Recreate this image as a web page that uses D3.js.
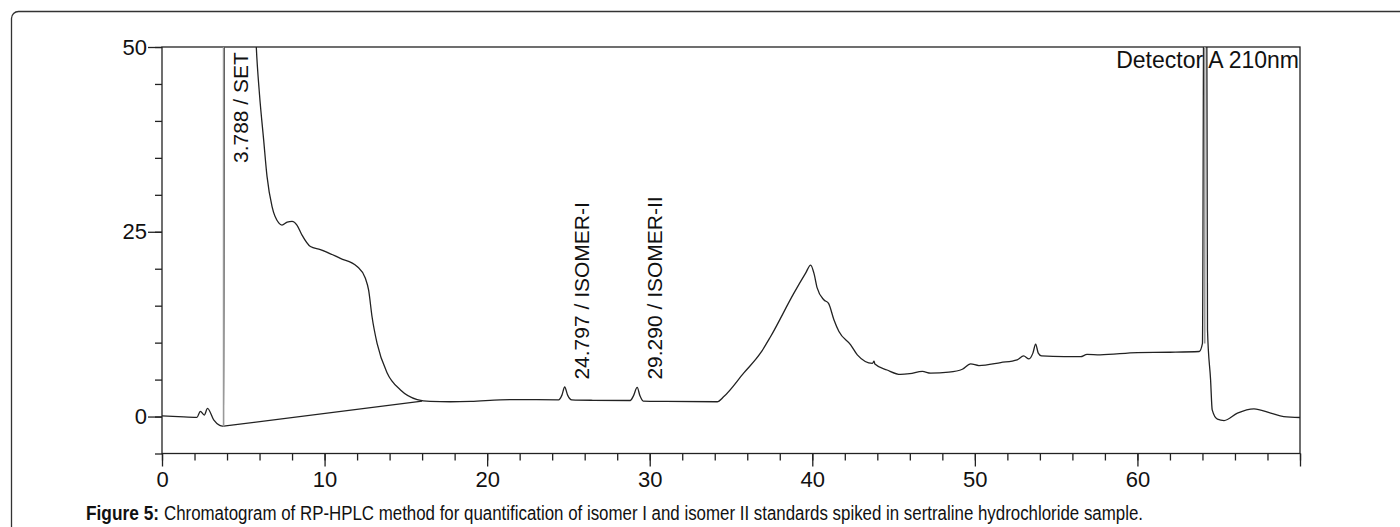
<!DOCTYPE html>
<html>
<head>
<meta charset="utf-8">
<script src="https://cdn.jsdelivr.net/npm/d3@7"></script>
<style>
  body { margin: 0; background: #fff; }
  svg { display: block; font-family: "Liberation Sans", Arial, sans-serif; }
</style>
</head>
<body>
<script>
// chromatogram trace: [time (min), signal (mV)]
var traceTime = [0, 1.0, 2.15, 2.36, 2.6, 2.8, 3.18, 3.55, 3.72, 3.79, 3.85, 5.5, 5.8, 6.0, 6.25, 6.46, 6.77, 7.18, 7.38, 7.7, 8.0, 8.3, 8.6, 9.13, 9.74, 10.97, 12.0, 12.51, 12.71, 12.92, 13.23, 13.85, 14.67, 15.7, 16.5, 17.74, 19.0, 20.8, 22.0, 24.4, 24.6, 24.77, 24.95, 25.2, 26.5, 28.8, 29.0, 29.23, 29.4, 29.6, 31.0, 34.15, 34.56, 35.79, 36.82, 37.43, 38.87, 39.59, 39.9, 40.1, 40.3, 40.71, 41.0, 41.33, 41.64, 42.36, 42.77, 43.7, 43.8, 43.85, 44.6, 45.43, 46.0, 46.77, 47.28, 48.4, 49.23, 49.74, 50.25, 51.59, 52.6, 53.0, 53.33, 53.57, 53.74, 53.9, 54.1, 55.5, 56.5, 56.9, 57.7, 60.0, 62.0, 63.8, 64.0, 64.1, 64.25, 64.31, 64.5, 64.6, 64.92, 65.33, 66.15, 67.17, 68.2, 69.0, 70.0];
var traceSignal = [0.1, 0.0, -0.1, 0.7, 0.2, 1.1, -0.45, -1.2, -1.3, -1.3, 70, 70, 50, 43.5, 37.5, 32.5, 28.4, 26.2, 25.9, 26.3, 26.4, 25.9, 24.6, 23.0, 22.6, 21.4, 20.3, 18.7, 17.1, 13.5, 9.9, 5.9, 3.6, 2.3, 2.05, 2.0, 2.05, 2.25, 2.3, 2.26, 2.9, 4.0, 2.9, 2.26, 2.2, 2.17, 2.8, 3.95, 2.8, 2.1, 2.05, 2.0, 2.7, 5.9, 8.6, 10.8, 16.7, 19.4, 20.5, 19.4, 17.4, 15.8, 15.3, 13.1, 11.5, 9.7, 8.35, 7.2, 7.5, 7.1, 6.3, 5.7, 5.8, 6.1, 5.87, 6.0, 6.4, 7.13, 6.9, 7.3, 7.67, 8.2, 7.8, 8.58, 9.8, 8.58, 8.2, 8.1, 8.1, 8.4, 8.35, 8.66, 8.7, 8.8, 9.9, 70, 70, 11.7, 4.97, 0.9, -0.35, -0.54, 0.46, 1.04, 0.46, 0.0, -0.13];

// integration baseline under the solvent hump
var baseTime = [3.79, 16.0];
var baseSignal = [-1.3, 2.1];

// peak labels
var peakTimes = [3.788, 24.797, 29.290];
var peakNames = ["SET", "ISOMER-I", "ISOMER-II"];
var peakLabelStart = [34.3, 5.0, 5.0];   // signal level where the rotated label starts
var dropLines = [[3.788, -1.3], [64.14, 9.9]];

var xTicksMajor = [0, 10, 20, 30, 40, 50, 60];
var yTicksMajor = [0, 25, 50];

var svg = d3.select("body").append("svg").attr("width", 1400).attr("height", 527);

// figure border (rounded, runs off right and bottom)
svg.append("rect").attr("x", 11.5).attr("y", 11.5).attr("width", 1420).attr("height", 560)
  .attr("rx", 7).attr("fill", "none").attr("stroke", "#333").attr("stroke-width", 1.3);

var pLeft = 162, pRight = 1300, pTop = 47, pBottom = 453.5;
var x = d3.scaleLinear().domain([0, 70]).range([pLeft, pRight]);
var y = d3.scaleLinear().domain([-5, 50]).range([pBottom, pTop]);

svg.append("defs").append("clipPath").attr("id", "plotclip")
  .append("rect").attr("x", pLeft).attr("y", pTop).attr("width", pRight - pLeft).attr("height", pBottom - pTop);

// axes: minor ticks every 2 min / 5 mV, longer ticks on labelled values
var xAxisMinor = d3.axisBottom(x).tickValues(d3.range(0, 71, 2)).tickSize(7).tickFormat("");
var xAxisMajor = d3.axisBottom(x).tickValues(xTicksMajor.concat([70])).tickSize(13).tickPadding(5)
  .tickFormat(function(d) { return d == 70 ? "" : d; });
var yAxisMinor = d3.axisLeft(y).tickValues(d3.range(-5, 51, 5)).tickSize(7).tickFormat("");
var yAxisMajor = d3.axisLeft(y).tickValues(yTicksMajor).tickSize(14).tickPadding(1);

[xAxisMinor, xAxisMajor].forEach(function(ax) {
  svg.append("g").attr("class", "axis").attr("transform", "translate(0," + pBottom + ")").call(ax);
});
[yAxisMinor, yAxisMajor].forEach(function(ax) {
  svg.append("g").attr("class", "axis").attr("transform", "translate(" + pLeft + ",0)").call(ax);
});
svg.selectAll(".axis .domain").remove();
svg.selectAll(".axis line").attr("stroke", "#222").attr("stroke-width", 1.3);
svg.selectAll(".axis text").attr("font-size", "22px").attr("fill", "#111")
  .attr("font-family", "'Liberation Sans', Arial, sans-serif");

// frame
svg.append("rect").attr("x", pLeft).attr("y", pTop).attr("width", pRight - pLeft).attr("height", pBottom - pTop)
  .attr("fill", "none").attr("stroke", "#222").attr("stroke-width", 1.3);

var plot = svg.append("g").attr("clip-path", "url(#plotclip)");

var pts = traceTime.map(function(t, i) { return [t, traceSignal[i]]; });
var line = d3.line().x(function(d) { return x(d[0]); }).y(function(d) { return y(d[1]); })
  .curve(d3.curveMonotoneX);

plot.append("path").datum(pts).attr("d", line)
  .attr("fill", "none").attr("stroke", "#222").attr("stroke-width", 1.3);

plot.append("path").datum(baseTime.map(function(t, i) { return [t, baseSignal[i]]; }))
  .attr("d", d3.line().x(function(d) { return x(d[0]); }).y(function(d) { return y(d[1]); }))
  .attr("fill", "none").attr("stroke", "#222").attr("stroke-width", 1.3);

// grey drop lines
plot.selectAll(".drop").data(dropLines).enter().append("line")
  .attr("x1", function(d) { return x(d[0]); }).attr("x2", function(d) { return x(d[0]); })
  .attr("y1", pTop).attr("y2", function(d) { return y(d[1]); })
  .attr("stroke", "#999").attr("stroke-width", 1.6);

// rotated peak labels
svg.selectAll(".plabel").data(peakTimes).enter().append("text")
  .attr("transform", function(d, i) {
    return "translate(" + (x(d) + 24) + "," + y(peakLabelStart[i]) + ") rotate(-90)";
  })
  .attr("font-size", "21px").attr("fill", "#111")
  .text(function(d, i) { return d.toFixed(3) + " / " + peakNames[i]; });

svg.append("text").attr("x", pRight - 1).attr("y", 68).attr("text-anchor", "end")
  .attr("font-size", "23px").attr("fill", "#111").text("Detector A 210nm");

// caption
var capFont = "'Liberation Sans Narrow', 'Arial Narrow', 'Liberation Sans', Arial, sans-serif";
svg.append("text").attr("x", 86).attr("y", 520)
  .attr("font-family", capFont).attr("font-size", "20px").attr("font-weight", "bold").attr("fill", "#111")
  .attr("textLength", 73).attr("lengthAdjust", "spacingAndGlyphs")
  .text("Figure 5:");
svg.append("text").attr("x", 164).attr("y", 520)
  .attr("font-family", capFont).attr("font-size", "20px").attr("fill", "#111")
  .attr("textLength", 979).attr("lengthAdjust", "spacingAndGlyphs")
  .text("Chromatogram of RP-HPLC method for quantification of isomer I and isomer II standards spiked in sertraline hydrochloride sample.");
</script>
</body>
</html>
